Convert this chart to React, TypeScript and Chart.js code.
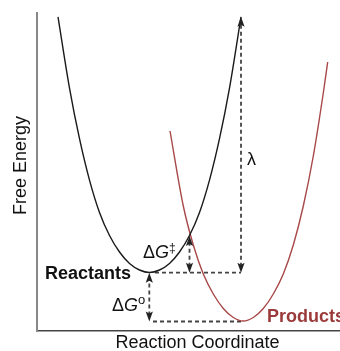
import { useEffect, useRef } from 'react';
import { Chart, registerables } from 'chart.js';

Chart.register(...registerables);

// Reaction coordinate (x) and free energy (E)
const reactantX = [21, 32.5, 42.5, 52.5, 62.5, 72.5, 82.5, 92.5, 102.5, 112.5, 122.5, 132.5, 142.5, 152.5, 162.5, 172.5, 182.5, 192.5, 204];
const reactantE = [314.1, 242.9, 192.3, 150.9, 118.5, 95.5, 79, 67.5, 61, 58.5, 61, 67.5, 79, 95.5, 118.5, 150.9, 192.3, 242.9, 314.1];

const productX = [133, 146.3, 156.3, 166.3, 176.3, 186.3, 196.3, 206.3, 216.3, 226.3, 236.3, 246.3, 256.3, 266.3, 276.3, 286.3, 290.7];
const productE = [200, 125, 86, 57, 37, 22.5, 13.5, 10, 13.5, 22.5, 37, 57, 86, 125, 175, 238, 269];

// energy levels
const reactantLevel = 58.3;
const productLevel = 9.5;

// double-headed arrows: lambda, ΔG‡, ΔG°
const arrowX = [204, 152.5, 112.3];
const arrowLow = [reactantLevel, reactantLevel, productLevel];
const arrowHigh = [314.3, 95, reactantLevel];

// horizontal dashed guides
const guideFrom = [118, 116];
const guideTo = [204, 206.3];
const guideE = [reactantLevel, productLevel];

const FONT = '"Liberation Sans", Arial, Helvetica, sans-serif';

function drawRich(ctx: CanvasRenderingContext2D, parts: { t: string; f: string; dy: number }[], x: number, y: number) {
  let cx = x;
  for (const p of parts) {
    ctx.font = p.f;
    ctx.fillText(p.t, cx, y + p.dy);
    cx += ctx.measureText(p.t).width;
  }
}

function head(ctx: CanvasRenderingContext2D, x: number, y: number, dir: number) {
  const L = 10;
  const W = 3.6;
  ctx.beginPath();
  ctx.moveTo(x, y);
  ctx.lineTo(x - W, y - dir * L);
  ctx.lineTo(x, y - dir * (L - 2));
  ctx.lineTo(x + W, y - dir * L);
  ctx.closePath();
  ctx.fill();
}

const annotPlugin = {
  id: 'annot',
  afterDatasetsDraw(chart: any) {
    const { ctx } = chart;
    const xs = chart.scales.x;
    const ys = chart.scales.y;
    ctx.save();
    ctx.fillStyle = '#222';
    for (let i = 0; i < arrowX.length; i++) {
      const px = xs.getPixelForValue(arrowX[i]);
      head(ctx, px, ys.getPixelForValue(arrowHigh[i]), -1);
      head(ctx, px, ys.getPixelForValue(arrowLow[i]), 1);
    }
    ctx.textAlign = 'left';
    ctx.textBaseline = 'alphabetic';
    ctx.fillStyle = '#111';
    ctx.font = 'bold 18px ' + FONT;
    ctx.textAlign = 'right';
    ctx.fillText('Reactants', 131, 278.5);
    ctx.textAlign = 'left';
    ctx.fillStyle = '#9b3a3a';
    ctx.fillText('Products', 267, 322);
    ctx.fillStyle = '#111';
    drawRich(ctx, [
      { t: 'Δ', f: '18px ' + FONT, dy: 0 },
      { t: 'G', f: 'italic 18px ' + FONT, dy: 0 },
      { t: '‡', f: '12px ' + FONT, dy: -6 },
    ], 143, 257.5);
    drawRich(ctx, [
      { t: 'Δ', f: '18px ' + FONT, dy: 0 },
      { t: 'G', f: 'italic 18px ' + FONT, dy: 0 },
      { t: 'o', f: '13px ' + FONT, dy: -7 },
    ], 112, 311);
    ctx.font = '18px ' + FONT;
    ctx.fillText('λ', 247, 165);
    ctx.textAlign = 'center';
    ctx.fillText('Reaction Coordinate', 197.5, 347.5);
    ctx.save();
    ctx.translate(26, 165.5);
    ctx.rotate(-Math.PI / 2);
    ctx.fillText('Free Energy', 0, 0);
    ctx.restore();
    ctx.restore();
  },
};

export default function App() {
  const ref = useRef<HTMLCanvasElement | null>(null);
  useEffect(() => {
    document.body.style.margin = '0';
    const canvas = ref.current;
    if (!canvas) return;
    const dashed = {
      borderColor: '#444',
      borderWidth: 1.8,
      borderDash: [4, 3],
      pointRadius: 0,
      tension: 0,
      fill: false,
    };
    const datasets: any[] = [
      {
        data: reactantX.map((x, i) => ({ x, y: reactantE[i] })),
        borderColor: '#1a1a1a',
        borderWidth: 1.4,
        pointRadius: 0,
        cubicInterpolationMode: 'monotone',
        fill: false,
      },
      {
        data: productX.map((x, i) => ({ x, y: productE[i] })),
        borderColor: '#a84848',
        borderWidth: 1.4,
        pointRadius: 0,
        cubicInterpolationMode: 'monotone',
        fill: false,
      },
    ];
    for (let i = 0; i < guideE.length; i++) {
      datasets.push({ ...dashed, data: [{ x: guideFrom[i], y: guideE[i] }, { x: guideTo[i], y: guideE[i] }] });
    }
    for (let i = 0; i < arrowX.length; i++) {
      datasets.push({ ...dashed, data: [{ x: arrowX[i], y: arrowLow[i] + 6 }, { x: arrowX[i], y: arrowHigh[i] - 6 }] });
    }
    const chart = new Chart(canvas, {
      type: 'line',
      data: { datasets },
      options: {
        animation: false,
        responsive: false,
        maintainAspectRatio: false,
        layout: { padding: { left: 37, top: 13, right: 0, bottom: 20 } },
        plugins: { legend: { display: false }, tooltip: { enabled: false } },
        scales: {
          x: {
            type: 'linear',
            min: 0,
            max: 303,
            grid: { display: false },
            ticks: { display: false },
            border: { display: true, color: '#444', width: 1.5 },
            afterFit: (s: any) => { s.height = 0; },
          },
          y: {
            type: 'linear',
            min: 0,
            max: 318,
            grid: { display: false },
            ticks: { display: false },
            border: { display: true, color: '#888', width: 2 },
            afterFit: (s: any) => { s.width = 0; },
          },
        },
      },
      plugins: [annotPlugin],
    });
    return () => chart.destroy();
  }, []);
  return (
    <div style={{ width: 340, height: 351, position: 'relative' }}>
      <canvas ref={ref} width={340} height={351} style={{ display: 'block' }} />
    </div>
  );
}
